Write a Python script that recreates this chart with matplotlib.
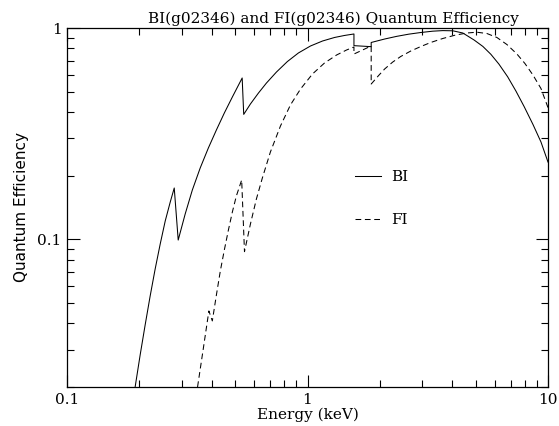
import numpy as np
import matplotlib
matplotlib.use("Agg")
import matplotlib.pyplot as plt
from matplotlib.ticker import FixedLocator, FixedFormatter, NullFormatter, LogLocator

plt.rcParams["font.family"] = ["DejaVu Serif"]

# BI (back illuminated) quantum efficiency
bi_energy = [0.192, 0.2015, 0.2113, 0.2217, 0.2326, 0.2441, 0.2561, 0.2687, 0.2792,
             0.290, 0.310, 0.332, 0.358, 0.387, 0.418, 0.451, 0.487, 0.535,
             0.543, 0.579, 0.625, 0.675, 0.743, 0.825, 0.917, 1.029, 1.155, 1.296, 1.426, 1.56,
             1.56, 1.84,
             1.84, 2.094, 2.349, 2.636, 2.957, 3.318, 3.652, 4.019, 4.424, 4.931, 5.360,
             5.786, 6.249, 6.794, 7.356, 7.964, 8.660, 9.350, 10.0]
bi_qe = [0.020, 0.0284, 0.0393, 0.0539, 0.0724, 0.0950, 0.1221, 0.1501, 0.1749,
         0.0992, 0.1317, 0.1711, 0.2176, 0.2704, 0.3291, 0.396, 0.4714, 0.580,
         0.390, 0.437, 0.492, 0.549, 0.619, 0.694, 0.762, 0.822, 0.868, 0.902, 0.922, 0.937,
         0.825, 0.816,
         0.854, 0.887, 0.913, 0.935, 0.952, 0.966, 0.972, 0.970, 0.947, 0.877, 0.818,
         0.751, 0.675, 0.588, 0.503, 0.424, 0.3495, 0.2887, 0.232]

# FI (front illuminated) quantum efficiency
fi_energy = [0.349, 0.3686, 0.389,
             0.402, 0.418, 0.434, 0.451, 0.469, 0.487, 0.506, 0.5325,
             0.547, 0.579, 0.613, 0.649, 0.701, 0.772, 0.849, 0.935, 1.049, 1.177, 1.321, 1.454, 1.56,
             1.56, 1.84,
             1.84, 1.976, 2.094, 2.261, 2.441, 2.687, 2.957, 3.254, 3.652, 4.097, 4.597, 5.060,
             5.569, 6.130, 6.749, 7.428, 8.019, 8.660, 9.350, 10.0]
fi_qe = [0.020, 0.0303, 0.0458,
         0.0411, 0.0545, 0.0708, 0.0890, 0.1107, 0.1346, 0.1603, 0.1909,
         0.0874, 0.1181, 0.1551, 0.1950, 0.2589, 0.3438, 0.432, 0.514, 0.606, 0.683, 0.745, 0.787, 0.813,
         0.753, 0.822,
         0.543, 0.596, 0.640, 0.690, 0.733, 0.778, 0.817, 0.854, 0.892, 0.924, 0.947, 0.955,
         0.942, 0.902, 0.835, 0.753, 0.679, 0.599, 0.517, 0.420]

x_ticks = [0.1, 1, 10]
x_labels = ["0.1", "1", "10"]
y_ticks = [0.1, 1]
y_labels = ["0.1", "1"]

fig = plt.figure(figsize=(5.59, 4.26), dpi=100)
fig.subplots_adjust(left=67 / 559, right=548 / 559, top=1 - 28 / 426, bottom=1 - 387 / 426)
ax = fig.add_subplot(111)

ax.plot(bi_energy, bi_qe, color="black", lw=0.75, label="BI")
ax.plot(fi_energy, fi_qe, color="black", lw=0.75, dashes=(5.5, 3.5), label="FI")

ax.set_xscale("log")
ax.set_yscale("log")
ax.set_xlim(0.1, 10)
ax.set_ylim(0.02, 1)

ax.xaxis.set_major_locator(FixedLocator(x_ticks))
ax.xaxis.set_major_formatter(FixedFormatter(x_labels))
ax.yaxis.set_major_locator(FixedLocator(y_ticks))
ax.yaxis.set_major_formatter(FixedFormatter(y_labels))
ax.xaxis.set_minor_locator(LogLocator(base=10, subs=np.arange(2, 10)))
ax.yaxis.set_minor_locator(LogLocator(base=10, subs=np.arange(2, 10)))
ax.xaxis.set_minor_formatter(NullFormatter())
ax.yaxis.set_minor_formatter(NullFormatter())

ax.tick_params(which="both", direction="in", top=True, right=True, labelsize=11, width=0.8)
ax.tick_params(which="major", length=9, pad=4)
ax.tick_params(which="minor", length=5)
for s in ax.spines.values():
    s.set_linewidth(0.9)

ax.set_xlabel("Energy (keV)", fontsize=11, labelpad=1)
ax.set_ylabel("Quantum Efficiency", fontsize=11, family=["DejaVu Sans"], labelpad=6)
fig.text(333 / 559, 1 - 19 / 426, "BI(g02346) and FI(g02346) Quantum Efficiency",
         ha="center", va="center", fontsize=11)

ax.legend(loc="upper left", bbox_to_anchor=(0.5825, 0.625), frameon=False, fontsize=11,
          handlelength=1.7, handletextpad=0.7, labelspacing=1.9, borderpad=0)

fig.savefig("out.png", dpi=100)
